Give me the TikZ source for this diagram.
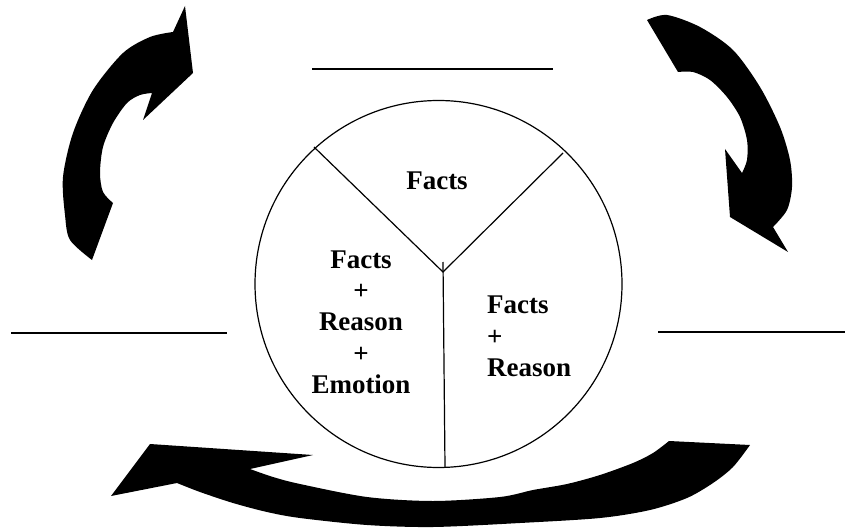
\documentclass[tikz,border=0pt]{standalone}
\usepackage{fontspec}
\setmainfont{Liberation Serif}
\begin{document}
\begin{tikzpicture}[x=1pt,y=-1pt,
  blank/.style={draw=black,line width=1.5pt},
  divider/.style={draw=black,line width=1.2pt},
  lbl/.style={font=\fontsize{27}{31}\selectfont\bfseries,inner sep=0pt,anchor=base},
  lblw/.style={font=\fontsize{27}{31}\selectfont\bfseries,inner sep=0pt,anchor=base west}]
\useasboundingbox (0,0) rectangle (845,529);
% pie circle
\node[circle,draw,line width=1.2pt,inner sep=0pt,minimum size=367pt] (c) at (438.5,284) {};
\coordinate (j) at (443,272);
\coordinate (jt) at (443,262);
\coordinate (cb) at (445,467);
\coordinate (dl) at (314,147);
\coordinate (dr) at (563,153);
\draw[divider] (dl) -- (j) -- (dr);
\draw[divider] (jt) -- (cb);
% blanks
\coordinate (t1) at (312,69); \coordinate (t2) at (553,69);
\coordinate (l1) at (11,333); \coordinate (l2) at (227,333);
\coordinate (r1) at (658,332); \coordinate (r2) at (845,332);
\draw[blank] (t1) -- (t2);
\draw[blank] (l1) -- (l2);
\draw[blank] (r1) -- (r2);
% texts
\node[lbl] (top) at (437,190) {Facts};
\node[lbl] (a1) at (361,268) {Facts};
\node[lbl] (a2) at (361,299) {+};
\node[lbl] (a3) at (361,330) {Reason};
\node[lbl] (a4) at (361,362) {+};
\node[lbl] (a5) at (361,393) {Emotion};
\node[lblw] (b1) at (487,313) {Facts};
\node[lblw] (b2) at (487,345) {+};
\node[lblw] (b3) at (487,376) {Reason};
% left curved arrow
\fill (92,260) -- plot[smooth] coordinates {(92,260) (70,240) (65,215) (63,177) (73,133) (93,90) (123,53) (150,37) (173,32)}
  -- (185,6) -- (193,73) -- (143,120) -- (152,93)
  -- plot[smooth] coordinates {(152,93) (140,95) (127,103) (113,123) (103,147) (100,173) (103,192) (113,203)} -- cycle;
% right curved arrow
\fill (647,20) -- plot[smooth] coordinates {(647,20) (667,15) (700,27) (733,50) (760,87) (780,127) (790,160) (792,187) (787,210) (773,227)}
  -- (788,252) -- (730,217) -- (725,149) -- (742,173)
  -- plot[smooth] coordinates {(742,173) (747,160) (747,140) (740,117) (727,97) (710,80) (693,72) (678,72)} -- cycle;
% bottom curved arrow
\fill (750,445) -- plot[smooth] coordinates {(750,445) (733,467) (713,483) (687,498) (650,510) (600,518) (520,523) (433,527) (367,525) (300,518) (267,512) (233,503) (200,492) (177,483)}
  -- (111,496) -- (150,444) -- (313,455) -- (250,469)
  -- plot[smooth] coordinates {(250,469) (273,477) (300,484) (367,497) (433,501) (500,497) (533,490) (567,484) (600,475) (633,463) (653,453) (669,441)} -- cycle;
\end{tikzpicture}
\end{document}
